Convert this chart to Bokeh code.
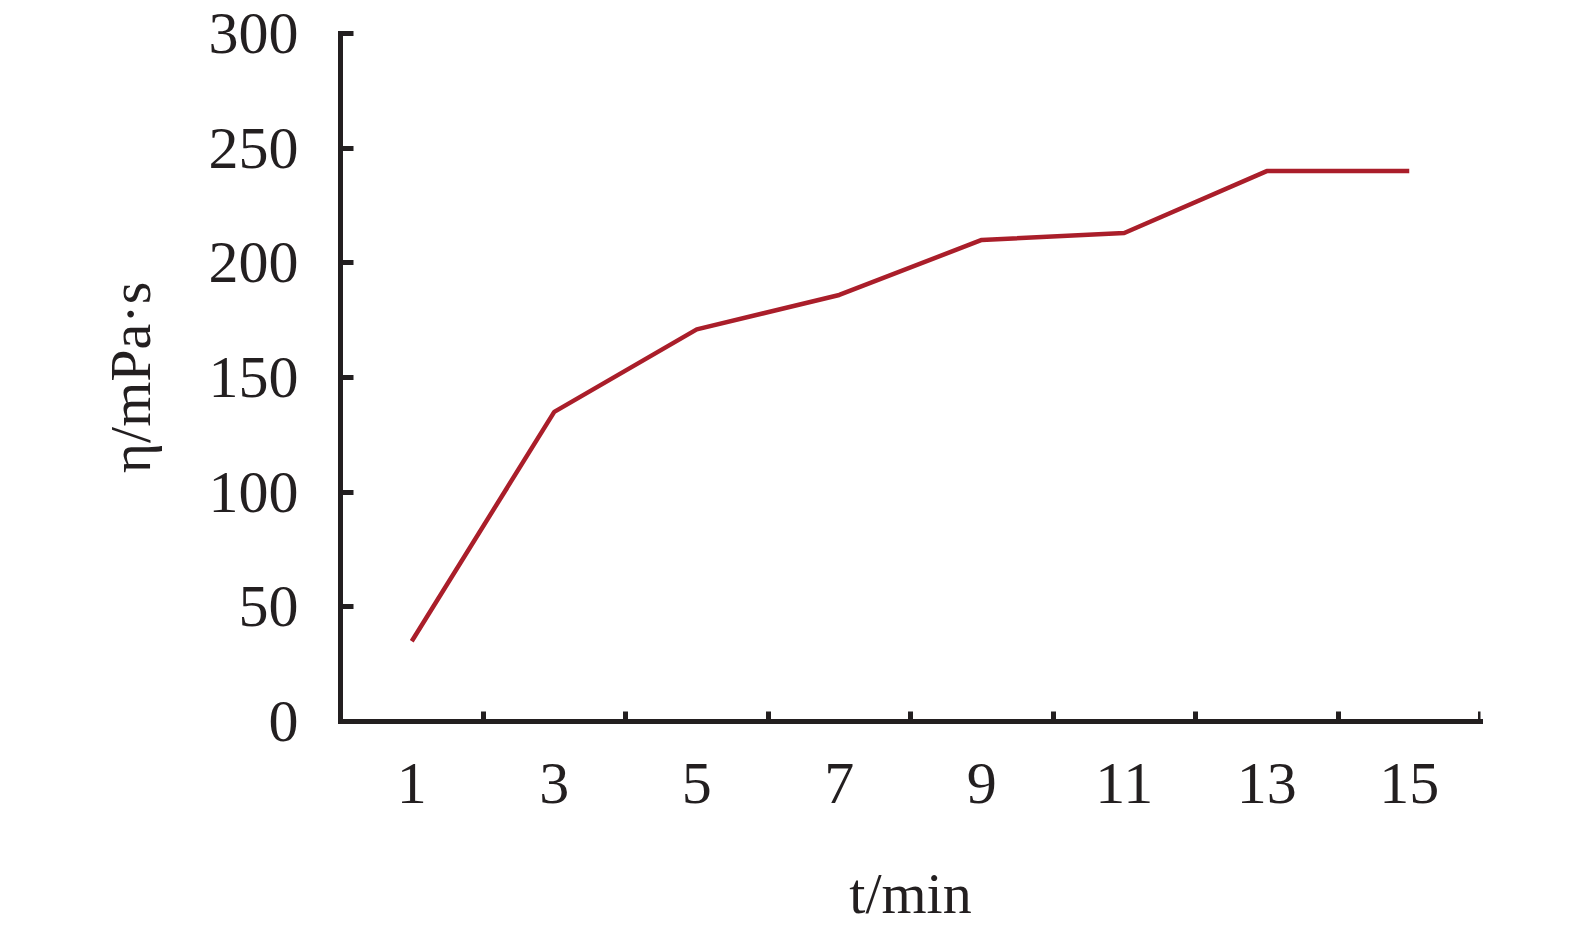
from bokeh.plotting import figure
from bokeh.models import LinearAxis, FixedTicker, Range1d
from bokeh.embed import file_html
from bokeh.resources import INLINE

# Data
categories = ["1", "3", "5", "7", "9", "11", "13", "15"]
viscosity = [35, 135, 171, 186, 210, 213, 240, 240]
y_ticks = [0, 50, 100, 150, 200, 250, 300]

x_pos = [i + 1 for i in range(len(categories))]
boundaries = [i + 1.5 for i in range(len(categories))]

FONT = "Liberation Serif"
TXT = "#231F20"
TICK_SIZE = "60px"
LABEL_SIZE = "58px"

p = figure(width=1559, height=936, output_backend="svg", toolbar_location=None,
           x_range=Range1d(0.5, len(categories) + 0.5), y_range=Range1d(0, 300),
           x_axis_type=None, y_axis_type=None,
           min_border_left=340, min_border_right=79, min_border_top=33, min_border_bottom=215)
p.outline_line_color = None
p.xgrid.visible = False
p.ygrid.visible = False
p.background_fill_color = "white"
p.border_fill_color = "white"

# y axis
yax = LinearAxis(ticker=FixedTicker(ticks=y_ticks), axis_label="η/mPa·s")
yax.axis_line_width = 5
yax.axis_line_color = TXT
yax.axis_line_cap = "square"
yax.major_tick_line_width = 5
yax.major_tick_line_color = TXT
yax.major_tick_in = 13
yax.major_tick_out = 0
yax.minor_tick_line_color = None
yax.major_label_text_font = FONT
yax.major_label_text_font_size = TICK_SIZE
yax.major_label_text_color = TXT
yax.major_label_standoff = 42
yax.axis_label_text_font = FONT
yax.axis_label_text_font_size = LABEL_SIZE
yax.axis_label_text_font_style = "normal"
yax.axis_label_text_color = TXT
yax.axis_label_standoff = 43
p.add_layout(yax, "left")

# x axis with category labels
xax = LinearAxis(ticker=FixedTicker(ticks=x_pos), axis_label="t/min")
xax.major_label_overrides = {x: c for x, c in zip(x_pos, categories)}
xax.axis_line_width = 5
xax.axis_line_color = TXT
xax.axis_line_cap = "square"
xax.major_tick_line_color = None
xax.major_tick_in = 0
xax.major_tick_out = 0
xax.minor_tick_line_color = None
xax.major_label_text_font = FONT
xax.major_label_text_font_size = TICK_SIZE
xax.major_label_text_color = TXT
xax.major_label_standoff = 42
xax.axis_label_text_font = FONT
xax.axis_label_text_font_size = LABEL_SIZE
xax.axis_label_text_font_style = "normal"
xax.axis_label_text_color = TXT
xax.axis_label_standoff = 55
p.add_layout(xax, "below")

# boundary ticks between categories, drawn at y = 0 pointing upward
bax = LinearAxis(ticker=FixedTicker(ticks=boundaries), fixed_location=0)
bax.axis_line_color = None
bax.major_tick_line_width = 5
bax.major_tick_line_color = TXT
bax.major_tick_in = 0
bax.major_tick_out = 10
bax.minor_tick_line_color = None
bax.major_label_overrides = {b: "" for b in boundaries}
bax.major_label_text_font_size = "0px"
bax.major_label_standoff = 0
p.add_layout(bax, "above")

p.line(x_pos, viscosity, line_color="#AA1E2A", line_width=4.5)

html = file_html(p, INLINE)
open("out.html", "w").write(html)
